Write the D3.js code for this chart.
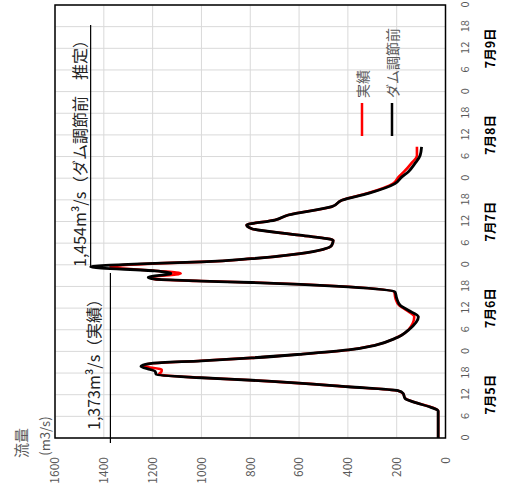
<!DOCTYPE html>
<html>
<head>
<meta charset="utf-8">
<script src="https://cdn.jsdelivr.net/npm/d3@7"></script>
<style>
  body { margin: 0; background: #fff; }
  svg { display: block; }
</style>
</head>
<body>
<svg id="chart" width="512" height="491"></svg>
<script>
// hours since 7/5 0:00
const hours    = [0, 7.5, 8.5, 10, 11, 12.4, 13.1, 14.2, 16, 16.7, 17.6, 18.5, 19, 19.9, 20.7, 21.4, 22.2, 23.2, 24.4, 25.7, 27.6, 28.5, 30, 33.6, 35.4, 36.8, 38.7, 40.5, 41.9, 42.6, 43.1, 43.5, 44, 44.5, 45.6, 46.3, 47.4, 48.4, 48.8, 49.7, 51.1, 53.4, 54.8, 56.2, 58, 59, 60.4, 61.8, 64.1, 65.9, 67.8, 70.5, 72.3, 73.8, 76.1, 78.3, 80.7];
const actual   = [30, 30, 55, 130, 165, 175, 195, 400, 790, 1000, 1175, 1163, 1163, 1240, 1200, 1000, 794, 596, 398, 289, 207, 180, 152, 128, 160, 190, 205, 210, 398, 596, 794, 1000, 1190, 1210, 1085, 1180, 1373, 1180, 1000, 794, 596, 466, 460, 596, 794, 815, 699, 644, 466, 425, 320, 215, 193, 170, 140, 117, 117];
const beforeDam = [30, 30, 60, 132, 166, 174, 195, 400, 794, 1000, 1185, 1190, 1210, 1248, 1204, 1000, 794, 596, 398, 289, 207, 180, 150, 111, 153, 186, 200, 207, 398, 596, 794, 1000, 1190, 1218, 1125, 1190, 1454, 1190, 1000, 794, 596, 466, 460, 596, 794, 815, 699, 644, 466, 425, 316, 207, 180, 152, 125, 104, 98];
const dayLabels = ["7月5日", "7月6日", "7月7日", "7月8日", "7月9日"];
const valueTicks = [0, 200, 400, 600, 800, 1000, 1200, 1400, 1600];
const hourTicks = d3.range(0, 121, 6);
const legendNames = ["実績", "ダム調節前"];
const colors = ["#ff0000", "#000000"];

const svg = d3.select("#chart");
const font = "'Noto Sans CJK JP', 'Noto Sans', sans-serif";

// whole chart is drawn unrotated, then turned 90deg counter-clockwise
const g = svg.append("g").attr("transform", "translate(0,491) rotate(-90)");

const x = d3.scaleLinear().domain([0, 120]).range([53, 486]);
const y = d3.scaleLinear().domain([0, 1600]).range([445.5, 55]);

// gridlines
g.append("g").selectAll("line").data(hourTicks).join("line")
  .attr("x1", d => x(d)).attr("x2", d => x(d))
  .attr("y1", y(1600)).attr("y2", y(0))
  .attr("stroke", "#d9d9d9").attr("stroke-width", 1);
g.append("g").selectAll("line").data(valueTicks).join("line")
  .attr("x1", x(0)).attr("x2", x(120))
  .attr("y1", d => y(d)).attr("y2", d => y(d))
  .attr("stroke", "#d9d9d9").attr("stroke-width", 1);

// axes
const yAxis = g.append("g")
  .attr("transform", `translate(${x(0)},0)`)
  .call(d3.axisLeft(y).tickValues(valueTicks).tickSize(0).tickPadding(19).tickFormat(d3.format("d")));
yAxis.select(".domain").remove();
yAxis.selectAll("text").attr("fill", "#595959").attr("font-size", "12px").attr("font-family", font);

const xAxis = g.append("g")
  .attr("transform", `translate(0,${y(0)})`)
  .call(d3.axisBottom(x).tickValues(hourTicks).tickSize(0).tickPadding(16).tickFormat(d => d % 24));
xAxis.select(".domain").remove();
xAxis.selectAll("text").attr("fill", "#595959").attr("font-size", "11px").attr("font-family", font);

g.append("g").selectAll("text").data(dayLabels).join("text")
  .attr("x", (d, i) => x(i * 24 + 12))
  .attr("y", 489)
  .attr("text-anchor", "middle")
  .attr("dominant-baseline", "central")
  .attr("font-size", "12.5px")
  .attr("font-weight", "bold")
  .attr("font-family", font)
  .attr("fill", "#000")
  .text(d => d);

// axis title
g.append("text")
  .attr("x", 48).attr("y", 20)
  .attr("text-anchor", "middle").attr("dominant-baseline", "central")
  .attr("font-size", "15px").attr("font-family", font).attr("fill", "#595959")
  .text("流量");
g.append("text")
  .attr("x", 55).attr("y", 44)
  .attr("text-anchor", "middle").attr("dominant-baseline", "central")
  .attr("font-size", "13px").attr("font-family", font).attr("fill", "#595959")
  .text("(m3/s)");

// series
const line = d3.line().x((d, i) => x(hours[i])).y(d => y(d)).curve(d3.curveMonotoneX);
[actual, beforeDam].forEach((s, k) => {
  g.append("path")
    .attr("d", line(s))
    .attr("fill", "none")
    .attr("stroke", colors[k])
    .attr("stroke-width", k === 1 ? 2.8 : 2.6)
    .attr("stroke-linejoin", "round");
});

// plot frame
g.append("rect")
  .attr("x", x(0)).attr("y", y(1600))
  .attr("width", x(120) - x(0)).attr("height", y(0) - y(1600))
  .attr("fill", "none").attr("stroke", "#000").attr("stroke-width", 1.5);

// peak annotations
const peakT = 47.4;
g.append("line")
  .attr("x1", 48).attr("x2", x(peakT) - 6)
  .attr("y1", y(1373)).attr("y2", y(1373))
  .attr("stroke", "#000").attr("stroke-width", 1.2);
g.append("text")
  .attr("x", 61).attr("y", 100)
  .attr("font-size", "16px").attr("font-family", font).attr("fill", "#222")
  .text("1,373m³/s（実績）");
g.append("line")
  .attr("x1", x(peakT)).attr("x2", 466)
  .attr("y1", y(1454)).attr("y2", y(1454))
  .attr("stroke", "#000").attr("stroke-width", 1.2);
g.append("text")
  .attr("x", 224).attr("y", 86)
  .attr("font-size", "16px").attr("font-family", font).attr("fill", "#222")
  .text("1,454m³/s（ダム調節前　推定）");

// legend
legendNames.forEach((name, k) => {
  const ly = 362 + k * 30;
  g.append("line")
    .attr("x1", 355).attr("x2", 388)
    .attr("y1", ly).attr("y2", ly)
    .attr("stroke", colors[k]).attr("stroke-width", 2.5);
  g.append("text")
    .attr("x", 393).attr("y", ly)
    .attr("dominant-baseline", "central")
    .attr("font-size", "14px").attr("font-family", font).attr("fill", "#595959")
    .text(name);
});
</script>
</body>
</html>
